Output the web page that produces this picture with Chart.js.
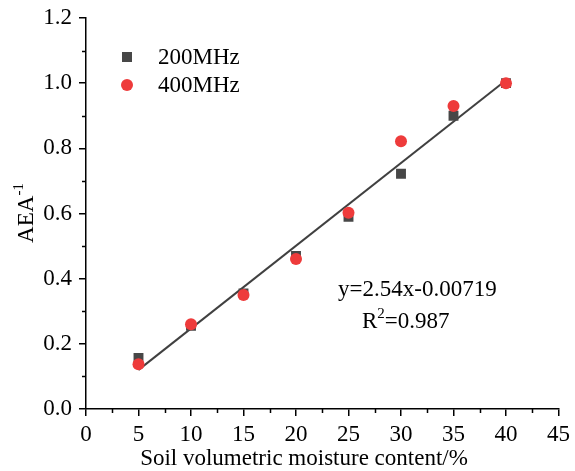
<!DOCTYPE html>
<html>
<head>
<meta charset="utf-8">
<script src="https://cdn.jsdelivr.net/npm/chart.js@4"></script>
<style>
  html, body { margin: 0; padding: 0; background: #fff; }
  #wrap { width: 575px; height: 471px; position: relative; }
</style>
</head>
<body>
<div id="wrap"><canvas id="chart"></canvas></div>
<script>
// Data
const moisture = [5, 10, 15, 20, 25, 30, 35, 40];
const aea200 = [0.157, 0.255, 0.355, 0.47, 0.59, 0.722, 0.90, 1.0];
const aea400 = [0.137, 0.26, 0.35, 0.46, 0.602, 0.822, 0.930, 1.0];
const fitX = [5, 40];
const fitY = [0.120, 1.009];
const seriesNames = ['200MHz', '400MHz'];
const fitText = ['y=2.54x-0.00719', '0.987'];

const FONT = '"Liberation Serif", "Times New Roman", serif';
const GRAY = '#474747';
const RED = '#ee3b3b';

const toPoints = (xs, ys) => xs.map((x, i) => ({ x: x, y: ys[i] }));

// minor ticks, axis titles, legend and the fit annotation
const extras = {
    id: 'extras',
    afterDraw(chart) {
        const ctx = chart.ctx;
        const xs = chart.scales.x;
        const ys = chart.scales.y;
        const area = chart.chartArea;
        ctx.save();
        ctx.strokeStyle = '#000';
        ctx.lineWidth = 1.5;
        ctx.beginPath();
        for (let v = 2.5; v < 45; v += 5) {
            const px = Math.round(xs.getPixelForValue(v)) + 0.5;
            ctx.moveTo(px, area.bottom);
            ctx.lineTo(px, area.bottom + 4);
        }
        for (let v = 0.1; v < 1.2; v += 0.2) {
            const py = Math.round(ys.getPixelForValue(v)) + 0.5;
            ctx.moveTo(area.left, py);
            ctx.lineTo(area.left - 4, py);
        }
        ctx.stroke();

        ctx.fillStyle = '#000';
        // x title
        ctx.font = '23px ' + FONT;
        ctx.textAlign = 'center';
        ctx.textBaseline = 'alphabetic';
        ctx.fillText('Soil volumetric moisture content/%', 304, 465);

        // y title, rotated with superscript
        ctx.save();
        ctx.translate(33, 213);
        ctx.rotate(-Math.PI / 2);
        ctx.textAlign = 'left';
        ctx.font = '23px ' + FONT;
        const w = ctx.measureText('AEA').width;
        ctx.font = '15px ' + FONT;
        const w2 = ctx.measureText('-1').width;
        const start = -(w + w2) / 2;
        ctx.font = '23px ' + FONT;
        ctx.fillText('AEA', start, 0);
        ctx.font = '15px ' + FONT;
        ctx.fillText('-1', start + w, -10);
        ctx.restore();

        // legend
        ctx.fillStyle = GRAY;
        ctx.fillRect(122, 52, 10, 10);
        ctx.fillStyle = RED;
        ctx.beginPath();
        ctx.arc(127, 85, 6, 0, Math.PI * 2);
        ctx.fill();
        ctx.fillStyle = '#000';
        ctx.font = '23px ' + FONT;
        ctx.textAlign = 'left';
        ctx.textBaseline = 'middle';
        ctx.fillText(seriesNames[0], 158, 58);
        ctx.fillText(seriesNames[1], 158, 86);

        // fit annotation
        ctx.textBaseline = 'alphabetic';
        ctx.fillText(fitText[0], 338, 296);
        ctx.fillText('R', 362, 328);
        const rw = ctx.measureText('R').width;
        ctx.font = '15px ' + FONT;
        ctx.fillText('2', 362 + rw, 318);
        const sw = ctx.measureText('2').width;
        ctx.font = '23px ' + FONT;
        ctx.fillText('=' + fitText[1], 362 + rw + sw, 328);
        ctx.restore();
    }
};

new Chart(document.getElementById('chart'), {
    type: 'scatter',
    data: {
        datasets: [
            {
                label: 'fit',
                type: 'line',
                data: toPoints(fitX, fitY),
                borderColor: '#404040',
                borderWidth: 2,
                pointRadius: 0,
                fill: false,
                order: 3
            },
            {
                label: seriesNames[0],
                data: toPoints(moisture, aea200),
                pointStyle: 'rect',
                pointRadius: 7,
                backgroundColor: GRAY,
                borderWidth: 0,
                order: 2
            },
            {
                label: seriesNames[1],
                data: toPoints(moisture, aea400),
                pointStyle: 'circle',
                pointRadius: 6,
                backgroundColor: RED,
                borderWidth: 0,
                order: 1
            }
        ]
    },
    options: {
        responsive: true,
        maintainAspectRatio: false,
        animation: false,
        layout: { padding: { top: 18, right: 16, left: 0, bottom: 0 } },
        plugins: { legend: { display: false }, tooltip: { enabled: false } },
        scales: {
            x: {
                type: 'linear',
                min: 0, max: 45,
                afterFit(scale) { scale.height = 62; },
                border: { display: true, color: '#000', width: 1.5 },
                grid: { drawOnChartArea: false, drawTicks: true, tickLength: 7, color: '#000', lineWidth: 1.5 },
                ticks: { stepSize: 5, color: '#000', padding: 5, font: { family: FONT, size: 23 } }
            },
            y: {
                type: 'linear',
                min: 0, max: 1.2,
                afterFit(scale) {
                    scale.width = 86;
                    scale.paddingTop = 0;
                    scale.paddingBottom = 0;
                },
                border: { display: true, color: '#000', width: 1.5 },
                grid: { drawOnChartArea: false, drawTicks: true, tickLength: 7, color: '#000', lineWidth: 1.5 },
                ticks: {
                    stepSize: 0.2, color: '#000', padding: 7,
                    font: { family: FONT, size: 23 },
                    callback: v => v.toFixed(1)
                }
            }
        }
    },
    plugins: [extras]
});
</script>
</body>
</html>
